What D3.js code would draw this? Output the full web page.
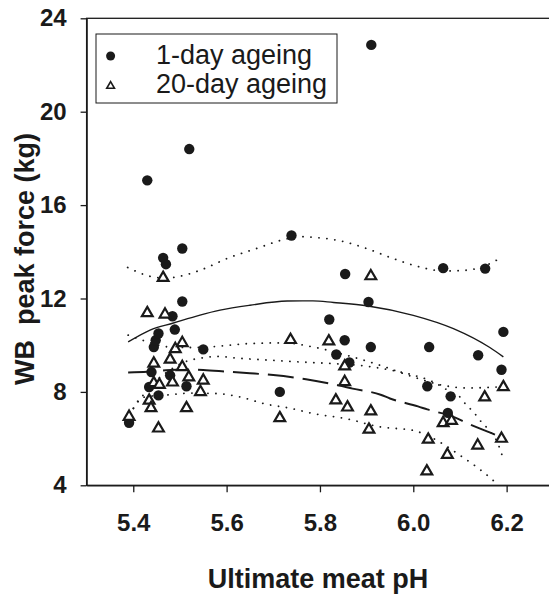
<!DOCTYPE html>
<html>
<head>
<meta charset="utf-8">
<script src="https://cdn.jsdelivr.net/npm/d3@7"></script>
<style>
  body { margin: 0; background: #fff; }
  text { font-family: "Liberation Sans", Arial, sans-serif; fill: #1a1a1a; }
</style>
</head>
<body>
<div id="chart"></div>
<script>
// tick values
var phTicks = [5.4, 5.6, 5.8, 6.0, 6.2];
var forceTicks = [4, 8, 12, 16, 20, 24];

// 1-day ageing points [pH, WB peak force]
var day1 = [
  [5.391, 6.68], [5.430, 17.06], [5.434, 8.21], [5.439, 8.85], [5.444, 9.92],
  [5.448, 10.21], [5.454, 10.50], [5.454, 7.85], [5.464, 13.74], [5.470, 13.47],
  [5.479, 8.71], [5.484, 11.24], [5.489, 10.67], [5.505, 14.14], [5.505, 11.87],
  [5.514, 8.24], [5.520, 18.40], [5.550, 9.82], [5.714, 8.00], [5.739, 14.70],
  [5.820, 11.10], [5.835, 9.60], [5.853, 10.21], [5.854, 13.05], [5.863, 9.26],
  [5.904, 11.85], [5.909, 9.92], [5.910, 22.86], [6.030, 8.24], [6.034, 9.92],
  [6.064, 13.30], [6.074, 7.10], [6.080, 7.81], [6.139, 9.57], [6.154, 13.28],
  [6.189, 8.95], [6.193, 10.57]
];

// 20-day ageing points
var day20 = [
  [5.391, 6.98], [5.430, 11.42], [5.434, 7.67], [5.438, 7.35], [5.444, 9.26],
  [5.444, 8.42], [5.454, 6.48], [5.456, 8.35], [5.464, 12.93], [5.468, 11.36],
  [5.479, 9.43], [5.484, 8.45], [5.490, 9.88], [5.505, 10.14], [5.505, 9.11],
  [5.514, 7.35], [5.519, 8.67], [5.544, 8.04], [5.550, 8.53], [5.714, 6.92],
  [5.737, 10.27], [5.819, 10.21], [5.834, 7.68], [5.853, 9.14], [5.853, 8.47],
  [5.859, 7.38], [5.905, 6.43], [5.909, 13.00], [5.909, 7.21], [6.029, 4.64],
  [6.032, 6.00], [6.064, 6.71], [6.073, 5.35], [6.082, 6.81], [6.138, 5.75],
  [6.153, 7.81], [6.189, 6.04], [6.193, 8.25]
];

// fitted curves and their bands
var fit1 = [
  [5.389, 10.14], [5.436, 10.65], [5.486, 10.95], [5.543, 11.29], [5.586, 11.50],
  [5.650, 11.71], [5.730, 11.89], [5.785, 11.90], [5.829, 11.83], [5.903, 11.68],
  [6.000, 11.28], [6.086, 10.71], [6.164, 9.90], [6.193, 9.50]
];
var upper1 = [
  [5.388, 13.33], [5.436, 12.95], [5.470, 12.87], [5.500, 12.95], [5.543, 13.21],
  [5.607, 13.76], [5.664, 14.14], [5.718, 14.50], [5.760, 14.65], [5.786, 14.62],
  [5.843, 14.47], [5.900, 14.14], [5.957, 13.71], [6.014, 13.35], [6.064, 13.18],
  [6.114, 13.21], [6.157, 13.43], [6.189, 13.76]
];
var lower1 = [
  [5.400, 7.30], [5.440, 8.30], [5.480, 8.95], [5.510, 9.28], [5.550, 9.46],
  [5.580, 9.52], [5.620, 9.45], [5.690, 9.36], [5.760, 9.28], [5.830, 9.21],
  [5.900, 9.10], [5.960, 8.90], [6.000, 8.72], [6.040, 8.45], [6.080, 8.00],
  [6.100, 7.78], [6.114, 7.43], [6.129, 7.14], [6.143, 6.78], [6.165, 6.30],
  [6.180, 5.85], [6.190, 5.30]
];
var fit20 = [
  [5.389, 8.83], [5.430, 8.86], [5.470, 8.93], [5.510, 8.96], [5.550, 8.94],
  [5.600, 8.87], [5.650, 8.80], [5.700, 8.72], [5.770, 8.54], [5.840, 8.28],
  [5.870, 8.14], [5.930, 7.88], [5.950, 7.72], [6.010, 7.38], [6.030, 7.25],
  [6.090, 6.90], [6.110, 6.71], [6.170, 6.21], [6.190, 6.05]
];
var upper20 = [
  [5.389, 10.43], [5.425, 10.18], [5.479, 9.92], [5.530, 9.90], [5.579, 9.95],
  [5.650, 10.07], [5.721, 10.10], [5.786, 9.92], [5.857, 9.57], [5.929, 9.14],
  [6.000, 8.64], [6.064, 8.28], [6.114, 8.17], [6.179, 8.21], [6.193, 8.30]
];
var lower20 = [
  [5.389, 7.04], [5.400, 7.28], [5.411, 7.64], [5.425, 7.78], [5.479, 7.88],
  [5.521, 7.95], [5.579, 7.93], [5.629, 7.78], [5.686, 7.47], [5.734, 7.31],
  [5.786, 7.07], [5.857, 6.85], [5.929, 6.50], [6.000, 6.35], [6.050, 5.93],
  [6.100, 5.28], [6.136, 4.78], [6.171, 4.21], [6.182, 4.00]
];

var w = 549, h = 594;
var margin = {top: 18.3, left: 86.6};
var ink = "#1a1a1a";

var svg = d3.select("#chart")
  .append("svg")
    .attr("width", w)
    .attr("height", h);

svg.append("rect")
  .attr("width", w)
  .attr("height", h)
  .attr("fill", "white");

var xScale = d3.scaleLinear()
  .domain([5.3, 6.3])
  .range([margin.left, 553.3]);

var yScale = d3.scaleLinear()
  .domain([4, 24])
  .range([485.3, margin.top]);

// frame (right edge falls just outside the picture)
svg.append("rect")
  .attr("x", xScale(5.3))
  .attr("y", yScale(24))
  .attr("width", xScale(6.3) - xScale(5.3))
  .attr("height", yScale(4) - yScale(24))
  .attr("fill", "none")
  .attr("stroke", ink)
  .attr("stroke-width", 1.3);

var xAxis = d3.axisBottom(xScale)
  .tickValues(phTicks)
  .tickFormat(d3.format(".1f"))
  .tickSize(7)
  .tickSizeOuter(0)
  .tickPadding(22);

var yAxis = d3.axisLeft(yScale)
  .tickValues(forceTicks)
  .tickSize(6)
  .tickSizeOuter(0)
  .tickPadding(14);

var gx = svg.append("g")
  .attr("transform", `translate(0, ${yScale(4)})`)
  .call(xAxis);
var gy = svg.append("g")
  .attr("transform", `translate(${xScale(5.3)}, 0)`)
  .call(yAxis);

[gx, gy].forEach(function (g) {
  g.select(".domain").attr("stroke", ink).attr("stroke-width", 1.3);
  g.selectAll(".tick line").attr("stroke", ink).attr("stroke-width", 1.3);
  g.selectAll(".tick text")
    .attr("fill", ink)
    .style("font-size", "24px")
    .style("font-weight", "bold")
    .style("font-family", '"Liberation Sans", Arial, sans-serif');
});

// axis titles
svg.append("text")
  .attr("x", 318)
  .attr("y", 588)
  .attr("text-anchor", "middle")
  .style("font-size", "27px")
  .style("font-weight", "bold")
  .text("Ultimate meat pH");

svg.append("text")
  .attr("transform", "translate(34, 259) rotate(-90)")
  .attr("text-anchor", "middle")
  .style("font-size", "27px")
  .style("font-weight", "bold")
  .style("white-space", "pre")
  .text("WB  peak force (kg)");

// curves
svg.append("clipPath")
  .attr("id", "plotclip")
  .append("rect")
    .attr("x", xScale(5.3))
    .attr("y", yScale(24))
    .attr("width", xScale(6.3) - xScale(5.3))
    .attr("height", yScale(4) - yScale(24));

var line = d3.line()
  .x(d => xScale(d[0]))
  .y(d => yScale(d[1]))
  .curve(d3.curveMonotoneX);

var curves = svg.append("g").attr("clip-path", "url(#plotclip)");

var dotted = [upper1, lower1, upper20, lower20];
dotted.forEach(function (c) {
  curves.append("path")
    .attr("d", line(c))
    .attr("fill", "none")
    .attr("stroke", ink)
    .attr("stroke-width", 1.8)
    .attr("stroke-linecap", "round")
    .attr("stroke-dasharray", "0.1 7.9");
});

curves.append("path")
  .attr("d", line(fit1))
  .attr("fill", "none")
  .attr("stroke", ink)
  .attr("stroke-width", 1.4);

curves.append("path")
  .attr("d", line(fit20))
  .attr("fill", "none")
  .attr("stroke", ink)
  .attr("stroke-width", 2)
  .attr("stroke-dasharray", "26 9");

// points
svg.append("g")
  .selectAll("circle")
  .data(day1)
  .enter()
  .append("circle")
    .attr("cx", d => xScale(d[0]))
    .attr("cy", d => yScale(d[1]))
    .attr("r", 5.2)
    .attr("fill", ink);

var tri = d3.symbol().type(d3.symbolTriangle).size(50);

svg.append("g")
  .selectAll("path")
  .data(day20)
  .enter()
  .append("path")
    .attr("d", tri)
    .attr("transform", d => `translate(${xScale(d[0])}, ${yScale(d[1]) + 1})`)
    .attr("fill", "white")
    .attr("stroke", ink)
    .attr("stroke-width", 2.2);

// legend
var legend = svg.append("g");
legend.append("rect")
  .attr("x", 96)
  .attr("y", 34)
  .attr("width", 241)
  .attr("height", 69)
  .attr("fill", "white")
  .attr("stroke", ink)
  .attr("stroke-width", 1);

legend.append("circle")
  .attr("cx", 110.6)
  .attr("cy", 56)
  .attr("r", 4.5)
  .attr("fill", ink);

legend.append("path")
  .attr("d", d3.symbol().type(d3.symbolTriangle).size(26)())
  .attr("transform", "translate(110.6, 86)")
  .attr("fill", "white")
  .attr("stroke", ink)
  .attr("stroke-width", 1.6);

legend.append("text")
  .attr("x", 156)
  .attr("y", 64)
  .style("font-size", "27px")
  .text("1-day ageing");

legend.append("text")
  .attr("x", 156)
  .attr("y", 93)
  .style("font-size", "27px")
  .text("20-day ageing");
</script>
</body>
</html>
